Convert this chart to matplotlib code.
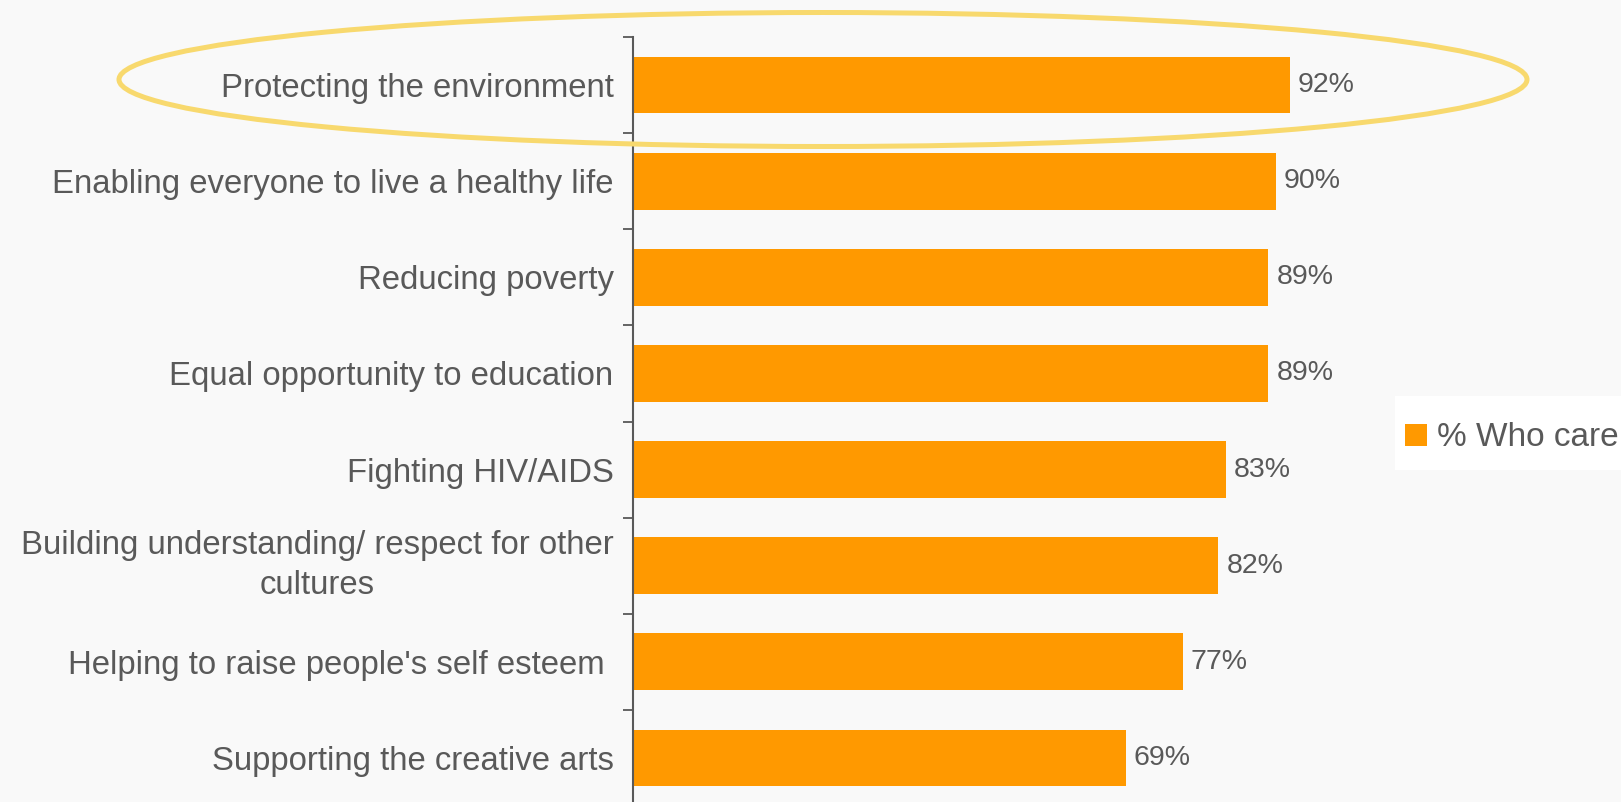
"""Cause ranking — % who care, horizontal bars."""
import matplotlib
matplotlib.use("Agg")
import matplotlib.pyplot as plt
from matplotlib.patches import Ellipse, Rectangle

plt.rcParams["font.family"] = ["Liberation Sans", "DejaVu Sans"]

causes = ["Protecting the environment",
          "Enabling everyone to live a healthy life",
          "Reducing poverty",
          "Equal opportunity to education",
          "Fighting HIV/AIDS",
          "Building understanding/ respect for other\ncultures",
          "Helping to raise people's self esteem ",
          "Supporting the creative arts"]
pct = [92, 90, 89, 89, 83, 82, 77, 69]
series = "% Who care"

ORANGE = "#FF9900"
TXT = "#595959"
W, H = 1621, 802

fig = plt.figure(figsize=(W / 100, H / 100), dpi=100)
fig.patch.set_facecolor("#f9f9f9")
# axes box in pixels: x 633..1347, y 37..806 (bottom runs just off the figure)
ax = fig.add_axes([633 / W, (H - 806) / H, 714 / W, (806 - 37) / H])
ax.set_facecolor("none")

ypos = list(range(len(causes)))
bars = ax.barh(ypos, pct, height=0.59, color=ORANGE, label=series, zorder=2)
ax.set_xlim(0, 100)
ax.set_ylim(len(causes) - 0.5, -0.5)

for y, v in zip(ypos, pct):
    ax.text(v + 1.1, y, f"{v}%", va="center", ha="left", fontsize=20.5, color=TXT)

ax.set_yticks(ypos)
ax.set_yticklabels(causes, fontsize=23.7, color=TXT, multialignment="center")
for t in ax.get_yticklabels():
    if "\n" in t.get_text():
        t.set_linespacing(1.4)
        t.set_verticalalignment("center")
ax.tick_params(axis="y", which="major", length=0, pad=14)
ax.set_yticks([i - 0.5 for i in range(len(causes) + 1)], minor=True)
ax.tick_params(axis="y", which="minor", length=7.2, width=1.3, color="#595959", direction="out")
ax.set_xticks([])
for s in ("top", "right", "bottom"):
    ax.spines[s].set_visible(False)
ax.spines["left"].set_color("#595959")
ax.spines["left"].set_linewidth(1.5)

# highlight ring around the top item
ring = Ellipse((823 / W, 1 - 79.5 / H), 1408 / W, 134 / H, transform=fig.transFigure,
               fill=False, edgecolor="#F8D96E", linewidth=3.6, zorder=5)
fig.patches.append(ring)

# white legend panel running off the right edge
fig.patches.append(Rectangle((1395 / W, 1 - 470 / H), (W - 1395) / W, 74 / H,
                             transform=fig.transFigure, facecolor="white",
                             edgecolor="none", zorder=1))
leg = fig.legend(handles=[bars], labels=[series], loc="center left",
                 bbox_to_anchor=(1405 / W, 1 - 438 / H), frameon=False, fontsize=24,
                 handlelength=0.65, handleheight=0.65, handletextpad=0.3,
                 borderpad=0, borderaxespad=0)
for t in leg.get_texts():
    t.set_color(TXT)

fig.savefig("out.png", dpi=100, facecolor=fig.get_facecolor())
print("saved out.png")
